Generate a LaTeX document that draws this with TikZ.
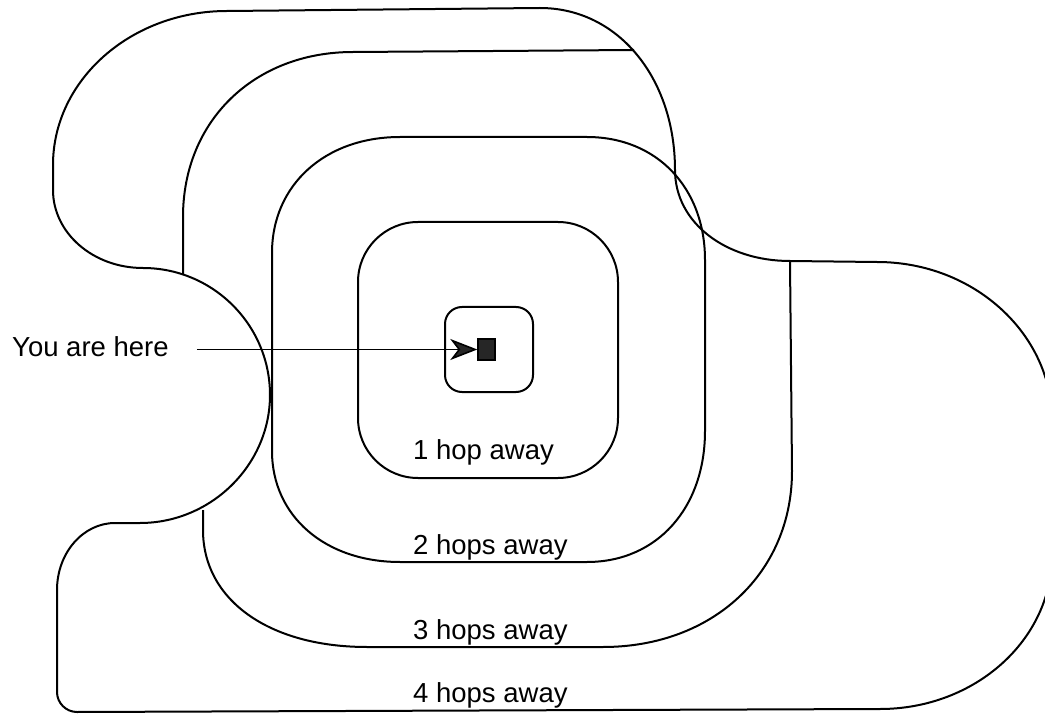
\documentclass[tikz,border=0pt]{standalone}
\usepackage{fontspec}
\setmainfont{Liberation Sans}
\usetikzlibrary{arrows.meta}
\begin{document}
\begin{tikzpicture}[x=1pt,y=-1pt,
  contour/.style={draw=black, line width=2pt, line join=round},
  hoplabel/.style={font=\fontsize{27.5}{31}\selectfont, anchor=base west, inner sep=0pt},
  pointer/.style={draw=black, line width=1.6pt,
    -{Stealth[length=27pt, width=21pt, inset=8pt, fill=black!85]}},
  herebox/.style={draw=black, line width=1.4pt, fill=black!85,
    minimum width=17pt, minimum height=21pt, inner sep=0pt}]
\useasboundingbox (0,0) rectangle (1045,714);
\clip (0,0) rectangle (1045,714);

% outermost region: four hops
\draw[contour] (227,11) -- (540,8)
  .. controls (618,8) and (675,78) .. (675,170)
  .. controls (675,223) and (726,261) .. (790,261)
  -- (877,262)
  .. controls (975,262) and (1052,335) .. (1052,420)
  -- (1052,555)
  .. controls (1052,640) and (975,709) .. (880,709)
  -- (77,712)
  .. controls (66,712) and (57,703) .. (57,692)
  -- (57,590)
  .. controls (57,553) and (83,523) .. (115,523)
  -- (140,523)
  .. controls (211,523) and (270,465) .. (270,395)
  .. controls (270,325) and (213,268) .. (143,268)
  .. controls (93,268) and (53,233) .. (53,190)
  -- (53,165)
  .. controls (53,80) and (131,11) .. (227,11) -- cycle;

% three hops: two arcs meeting the outer boundary
\draw[contour] (183,275) -- (183,217)
  .. controls (183,121) and (254,52) .. (353,52) -- (634,50);
\draw[contour] (790,261) -- (792,471)
  .. controls (792,573) and (713,647) .. (603,647)
  -- (367,647)
  .. controls (269,647) and (203,600) .. (203,530) -- (203,510);

% two hops
\draw[contour] (400,137) -- (587,137)
  .. controls (657,137) and (705,188) .. (705,260)
  -- (705,431)
  .. controls (705,508) and (657,562) .. (587,562)
  -- (400,562)
  .. controls (325,562) and (272,516) .. (272,451)
  -- (272,253)
  .. controls (272,185) and (325,137) .. (400,137) -- cycle;

% one hop
\draw[contour, rounded corners=60pt] (358,222) rectangle (618,478);

% immediate surroundings
\draw[contour, rounded corners=17pt] (445,307) rectangle (533,392);

% labels
\node[hoplabel] (h1) at (413,459) {1 hop away};
\node[hoplabel] (h2) at (413,554) {2 hops away};
\node[hoplabel] (h3) at (413,639) {3 hops away};
\node[hoplabel] (h4) at (413,702) {4 hops away};

% current position and pointer
\node[herebox] (dot) at (486.5,349.5) {};
\node[hoplabel] (you) at (12,356) {You are here};
\draw[pointer, shorten <=28pt] (you.east |- dot.west) -- (dot.west);
\end{tikzpicture}
\end{document}
